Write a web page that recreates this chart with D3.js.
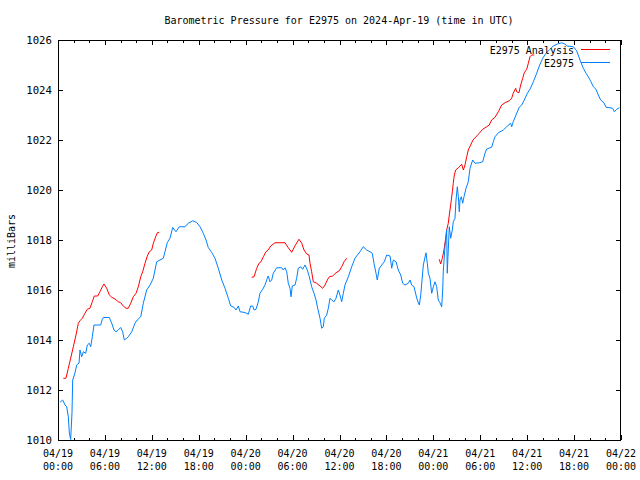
<!DOCTYPE html>
<html><head><meta charset="utf-8">
<script src="https://cdn.jsdelivr.net/npm/d3@7"></script>
<style>body{margin:0;background:#fff} svg{display:block} text{font-family:"DejaVu Sans Mono",monospace;fill:#000}</style>
</head><body><svg id="c" width="640" height="480"></svg>
<script>
const title = "Barometric Pressure for E2975 on 2024-Apr-19 (time in UTC)";
const yLabel = "milliBars";
const seriesNames = ["E2975 Analysis", "E2975"];
const seriesColors = ["#ff0000", "#0080ff"];
const startUTC = Date.UTC(2024, 3, 19, 0, 0);
const endUTC = Date.UTC(2024, 3, 22, 0, 0);
const yTicks = [1010, 1012, 1014, 1016, 1018, 1020, 1022, 1024, 1026];

// E2975 observations: hours since 2024-04-19 00:00 UTC
const blueHours = [0.26,0.60,0.90,1.11,1.32,1.45,1.62,1.79,1.88,2.17,2.39,2.69,2.81,3.03,3.24,3.54,3.75,4.00,4.18,4.39,4.60,5.46,5.67,5.79,6.56,6.87,7.16,7.42,7.71,8.02,8.27,8.48,8.79,8.99,9.43,9.85,10.14,10.58,10.91,11.34,11.77,12.19,12.62,13.04,13.47,13.68,13.98,14.32,14.67,15.09,15.51,16.24,16.66,17.23,17.74,18.16,18.58,18.93,19.22,19.66,20.08,20.50,20.94,21.36,21.78,22.09,22.51,22.76,23.06,23.28,23.91,24.34,24.64,24.90,25.07,25.32,25.62,25.83,26.18,26.47,26.77,26.89,27.11,27.33,27.53,27.97,28.61,28.81,29.03,29.25,29.45,29.67,29.80,29.96,30.31,30.52,30.73,31.04,31.29,31.59,31.88,32.14,32.44,32.74,33.00,33.21,33.51,33.72,33.93,34.06,34.36,34.57,34.79,35.00,35.30,35.55,35.85,36.06,36.28,36.49,36.70,37.13,37.56,37.98,38.62,39.04,39.48,39.90,40.19,40.41,40.67,40.83,41.09,41.40,41.73,42.04,42.46,42.68,42.88,43.23,43.52,43.83,44.08,44.38,44.80,45.02,45.23,45.53,45.78,45.95,46.21,46.39,46.72,47.06,47.23,47.36,47.57,47.79,48.00,48.21,48.43,48.63,48.85,49.07,49.20,49.27,49.49,49.71,49.78,49.91,50.04,50.22,50.43,50.55,50.77,50.90,51.07,51.20,51.32,51.41,51.58,51.76,51.92,52.18,52.47,52.69,53.03,53.33,53.88,54.31,54.61,54.82,55.46,55.67,55.89,56.31,56.95,57.38,57.89,58.02,58.22,58.57,58.99,59.30,59.63,60.02,60.36,60.79,61.22,61.55,61.99,62.41,62.92,63.34,63.86,64.42,64.84,65.13,65.90,66.33,66.76,67.18,67.53,67.82,68.16,68.46,68.80,69.10,69.40,69.82,70.08,70.59,70.94,71.14,71.45,71.78];
const bluePressure = [1011.51,1011.60,1011.40,1011.33,1010.93,1010.28,1010.02,1011.08,1012.40,1012.68,1013.00,1013.08,1013.60,1013.33,1013.53,1013.47,1013.80,1013.87,1013.73,1014.13,1014.60,1014.60,1014.83,1014.90,1014.90,1014.67,1014.40,1014.33,1014.40,1014.50,1014.33,1014.00,1014.07,1014.13,1014.33,1014.67,1014.80,1014.93,1015.47,1016.00,1016.20,1016.47,1017.13,1017.20,1017.27,1017.53,1017.90,1018.07,1018.50,1018.33,1018.53,1018.53,1018.67,1018.77,1018.70,1018.53,1018.27,1018.00,1017.70,1017.50,1017.27,1016.87,1016.40,1016.07,1015.67,1015.36,1015.31,1015.20,1015.36,1015.13,1015.10,1015.03,1015.36,1015.36,1015.20,1015.23,1015.53,1015.87,1016.03,1016.20,1016.47,1016.56,1016.33,1016.40,1016.67,1016.89,1016.89,1016.80,1016.89,1016.73,1016.27,1016.07,1015.73,1016.16,1016.20,1016.47,1016.87,1016.93,1016.83,1017.00,1016.80,1016.53,1016.13,1015.87,1015.60,1015.27,1014.87,1014.47,1014.53,1014.87,1015.00,1015.27,1015.67,1015.60,1015.53,1015.67,1016.00,1015.80,1015.53,1015.87,1016.20,1016.53,1016.93,1017.27,1017.53,1017.73,1017.60,1017.53,1017.47,1017.07,1016.67,1016.40,1016.87,1017.00,1017.13,1017.40,1017.36,1016.87,1017.20,1017.13,1016.80,1016.60,1016.27,1016.20,1016.27,1016.40,1016.20,1016.13,1015.80,1015.60,1015.40,1015.80,1017.00,1017.49,1017.07,1016.67,1016.47,1015.87,1016.13,1016.33,1016.13,1015.60,1015.49,1015.33,1016.00,1016.73,1017.73,1018.40,1016.67,1017.60,1018.53,1018.07,1018.40,1018.73,1018.87,1019.60,1020.13,1019.73,1019.13,1019.60,1019.73,1019.47,1019.73,1020.07,1020.33,1020.87,1021.20,1021.07,1021.09,1021.13,1021.47,1021.64,1021.71,1021.93,1022.13,1022.29,1022.40,1022.53,1022.67,1022.53,1022.73,1023.00,1023.31,1023.40,1023.60,1023.87,1024.03,1024.33,1024.67,1024.96,1025.27,1025.47,1025.63,1025.76,1025.84,1025.89,1025.84,1025.76,1025.73,1025.57,1025.20,1024.87,1024.67,1024.53,1024.33,1024.13,1024.03,1023.80,1023.60,1023.49,1023.31,1023.29,1023.27,1023.13,1023.23,1023.29];

// E2975 Analysis: hours since start; null marks gaps between segments
const redHours = [0.68,1.02,1.32,1.62,1.96,2.30,2.60,2.81,3.11,3.45,3.75,4.09,4.39,4.64,5.08,5.37,5.67,5.88,6.23,6.56,6.87,7.29,7.71,8.02,8.35,8.70,8.99,9.30,9.63,9.98,10.27,10.58,10.83,11.13,11.42,11.68,11.98,12.19,12.53,12.70,12.95,
  18.0,
  24.77,25.07,25.41,25.71,25.96,26.26,26.60,26.89,27.20,27.75,29.03,29.45,29.89,30.31,30.82,31.17,31.46,31.81,32.10,32.23,32.44,32.65,33.08,33.51,33.85,34.15,34.44,34.70,35.13,35.55,35.97,36.28,36.58,36.92,
  42.0,
  48.76,48.94,49.15,49.36,49.58,49.71,49.91,50.04,50.22,50.43,50.55,50.68,50.86,51.20,51.63,51.84,52.05,52.27,52.47,53.07,53.88,54.31,54.82,55.15,55.46,55.89,56.31,56.74,57.17,57.72,58.02,58.22,58.53,58.66,58.95,59.17,59.43,59.63,59.94,60.15,60.36,60.58,60.91];
const redPressure = [1012.47,1012.47,1012.87,1013.27,1013.73,1014.20,1014.67,1014.77,1014.87,1015.07,1015.23,1015.27,1015.53,1015.76,1015.76,1015.93,1016.13,1016.24,1016.07,1015.80,1015.71,1015.64,1015.53,1015.49,1015.36,1015.27,1015.27,1015.47,1015.73,1015.87,1016.13,1016.53,1016.73,1017.07,1017.36,1017.53,1017.60,1017.87,1018.16,1018.29,1018.31,
  null,
  1016.51,1016.53,1016.87,1017.07,1017.13,1017.33,1017.53,1017.60,1017.76,1017.89,1017.89,1017.69,1017.51,1017.77,1018.03,1017.87,1017.60,1017.44,1017.40,1017.07,1016.73,1016.33,1016.27,1016.16,1016.07,1016.20,1016.40,1016.53,1016.56,1016.69,1016.77,1016.93,1017.13,1017.27,
  null,
  1017.23,1017.04,1017.27,1017.60,1018.07,1018.40,1018.67,1019.00,1019.40,1019.93,1020.27,1020.60,1020.80,1020.89,1021.03,1020.80,1021.00,1021.33,1021.60,1022.00,1022.27,1022.43,1022.53,1022.60,1022.80,1022.91,1023.13,1023.40,1023.49,1023.57,1023.67,1023.87,1024.07,1023.93,1023.89,1024.20,1024.47,1024.69,1024.83,1025.07,1025.33,1025.40,1025.40];

const W = 640, H = 480;
const m = {left: 58, right: 19, top: 40, bottom: 40};
const svg = d3.select("#c");
const toDate = h => new Date(startUTC + h * 3600000);

const x = d3.scaleUtc().domain([new Date(startUTC), new Date(endUTC)]).range([m.left, W - m.right]);
const y = d3.scaleLinear().domain([1010, 1026]).range([H - m.bottom, m.top]);

const blue = blueHours.map((h, i) => ({t: toDate(h), v: bluePressure[i]}));
const red = redHours.map((h, i) => ({t: toDate(h), v: redPressure[i]}));

const line = d3.line().defined(d => d.v != null).x(d => x(d.t)).y(d => y(d.v));

// axes
const major = d3.utcHour.every(6), minor = d3.utcHour.every(2);
const gAx = svg.append("g").attr("shape-rendering", "crispEdges");
gAx.append("g").attr("transform", `translate(0,${H - m.bottom})`)
  .call(d3.axisBottom(x).ticks(minor).tickSize(-2.5).tickFormat(""));
gAx.append("g").attr("transform", `translate(0,${H - m.bottom})`)
  .call(d3.axisBottom(x).ticks(major).tickSize(-5).tickFormat(""));
gAx.append("g").attr("transform", `translate(0,${m.top})`)
  .call(d3.axisTop(x).ticks(minor).tickSize(-2.5).tickFormat(""));
gAx.append("g").attr("transform", `translate(0,${m.top})`)
  .call(d3.axisTop(x).ticks(major).tickSize(-5).tickFormat(""));
gAx.append("g").attr("transform", `translate(${m.left},0)`)
  .call(d3.axisLeft(y).tickValues(yTicks).tickSize(-5).tickFormat(""));
gAx.append("g").attr("transform", `translate(${W - m.right},0)`)
  .call(d3.axisRight(y).tickValues(yTicks).tickSize(-5).tickFormat(""));
gAx.selectAll(".domain").remove();
gAx.selectAll("line").attr("stroke", "#000");

// lines
svg.append("path").datum(red).attr("fill", "none").attr("stroke", seriesColors[0]).attr("stroke-width", 1).attr("d", line);
svg.append("path").datum(blue).attr("fill", "none").attr("stroke", seriesColors[1]).attr("stroke-width", 1).attr("d", line);

// border
svg.append("rect").attr("x", m.left + 0.5).attr("y", m.top + 0.5)
  .attr("width", W - m.left - m.right - 1).attr("height", H - m.top - m.bottom)
  .attr("fill", "none").attr("stroke", "#000").attr("shape-rendering", "crispEdges");

// x tick labels
const fDay = d3.utcFormat("%m/%d"), fTime = d3.utcFormat("%H:%M");
const xl = svg.append("g").style("font-size", "10px").attr("text-anchor", "middle");
x.ticks(major).forEach(d => {
  const t = xl.append("text").attr("x", x(d));
  t.append("tspan").attr("x", x(d)).attr("y", 457).text(fDay(d));
  t.append("tspan").attr("x", x(d)).attr("y", 470).text(fTime(d));
});

// y tick labels
svg.append("g").style("font-size", "10.7px").attr("text-anchor", "end")
  .selectAll("text").data(yTicks).join("text")
  .attr("x", 52).attr("y", d => y(d) + 3.7).text(d => d);

// title & y label
svg.append("text").attr("x", 339).attr("y", 24).attr("text-anchor", "middle").style("font-size", "10px").text(title);
svg.append("text").attr("transform", "translate(15,241) rotate(-90)").attr("text-anchor", "middle").style("font-size", "10px").text(yLabel);

// legend
const lg = svg.append("g").style("font-size", "10px");
seriesNames.forEach((n, i) => {
  const yy = 49 + i * 13;
  lg.append("text").attr("x", 574).attr("y", yy + 4.5).attr("text-anchor", "end").text(n);
  lg.append("line").attr("x1", 581).attr("x2", 610).attr("y1", yy + 0.5).attr("y2", yy + 0.5)
    .attr("stroke", seriesColors[i]).attr("shape-rendering", "crispEdges");
});
</script></body></html>
